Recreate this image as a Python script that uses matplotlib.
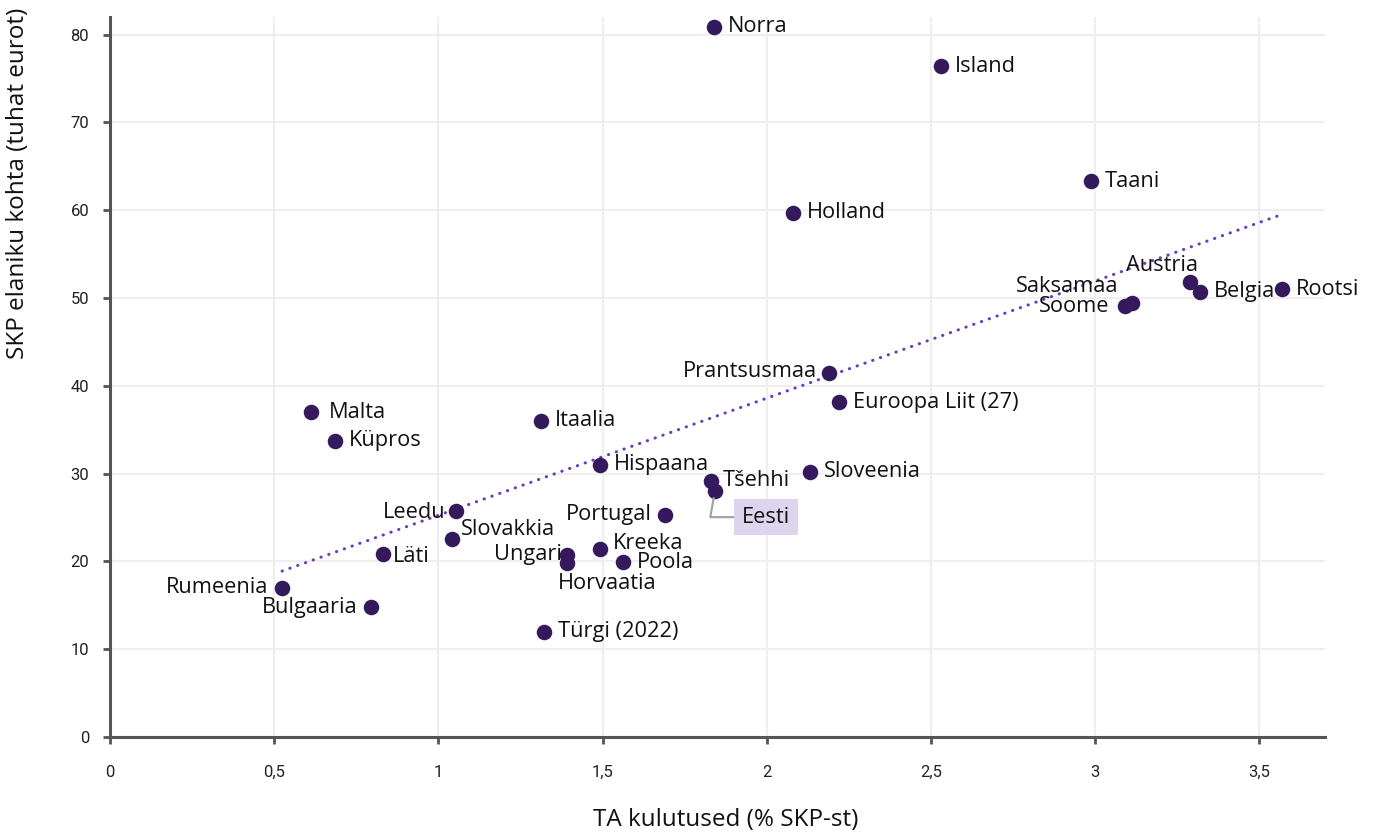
import matplotlib
matplotlib.use("Agg")
import matplotlib.pyplot as plt
from matplotlib.ticker import FuncFormatter, MultipleLocator

# countries, R&D spending (% of GDP) and GDP per capita (thousand EUR)
countries = ["Norra", "Island", "Taani", "Holland", "Austria", "Saksamaa", "Soome",
             "Belgia", "Rootsi", "Prantsusmaa", "Euroopa Liit (27)", "Malta", "Küpros",
             "Itaalia", "Hispaana", "Tšehhi", "Eesti", "Sloveenia", "Leedu", "Slovakkia",
             "Läti", "Portugal", "Kreeka", "Ungari", "Horvaatia", "Poola", "Rumeenia",
             "Bulgaaria", "Türgi (2022)"]
rd_share = [1.839, 2.530, 2.986, 2.079, 3.288, 3.111, 3.090,
            3.318, 3.568, 2.189, 2.219, 0.612, 0.685,
            1.312, 1.492, 1.830, 1.842, 2.131, 1.053, 1.041,
            0.831, 1.689, 1.492, 1.391, 1.391, 1.562, 0.524,
            0.795, 1.321]
gdp_pc = [80.9, 76.4, 63.3, 59.7, 51.8, 49.4, 49.1,
          50.7, 51.0, 41.4, 38.1, 37.0, 33.75,
          36.0, 31.0, 29.2, 28.0, 30.2, 25.7, 22.5,
          20.8, 25.3, 21.4, 20.7, 19.8, 19.9, 17.0,
          14.77, 12.0]

# trend line end points
trend_x = [0.524, 3.56]
trend_y = [18.9, 59.4]

highlight = "Eesti"

# label placement: (dx px, dy px, ha), default to the right
placement = {
    "Austria": (8, 17, "right"),
    "Saksamaa": (-13, 17, "right"),
    "Soome": (-15, -1, "right"),
    "Prantsusmaa": (-12, 2, "right"),
    "Malta": (18, 0, "left"),
    "Tšehhi": (12, 0, "left"),
    "Leedu": (-10, -1, "right"),
    "Slovakkia": (9, 10, "left"),
    "Läti": (10, -2, "left"),
    "Portugal": (-13, 0, "right"),
    "Kreeka": (13, 6, "left"),
    "Ungari": (-5, 1, "right"),
    "Horvaatia": (-9, -20, "left"),
    "Rumeenia": (-14, 0, "right"),
    "Bulgaaria": (-14, 0, "right"),
}

DOT = "#34195c"
TREND = "#6a3bbf"
AXIS = "#555555"
LABEL_FONT = ["Open Sans", "DejaVu Sans"]
LABEL_SIZE = 15.7
PX = 72 / 100  # pixels -> points

fig = plt.figure(figsize=(13.75, 8.32), dpi=100)
ax = fig.add_axes([110 / 1375, 1 - 737 / 832, (1325 - 110) / 1375, (737 - 17) / 832])

ax.plot(trend_x, trend_y, color=TREND, lw=2.2, linestyle=(0, (0.1, 2.6)),
        dash_capstyle="round", zorder=2)
ax.scatter(rd_share, gdp_pc, s=125, color=DOT, zorder=3, linewidths=0)

for name, x, y in zip(countries, rd_share, gdp_pc):
    if name == highlight:
        ax.annotate(name, xy=(x, y), xytext=(27 * PX, -26 * PX), textcoords="offset points",
                    ha="left", va="center", fontsize=LABEL_SIZE, family=LABEL_FONT,
                    color="#111111",
                    bbox=dict(boxstyle="square,pad=0.35", fc="#ddd4ee", ec="none"),
                    arrowprops=dict(arrowstyle="-", color="#a0a0a0", lw=1.5,
                                    connectionstyle="angle,angleA=0,angleB=80,rad=0",
                                    shrinkA=0, shrinkB=5),
                    zorder=4)
        continue
    dx, dy, ha = placement.get(name, (14, 0, "left"))
    ax.annotate(name, xy=(x, y), xytext=(dx * PX, dy * PX), textcoords="offset points",
                ha=ha, va="center", fontsize=LABEL_SIZE, family=LABEL_FONT, color="#111111",
                zorder=4)

ax.set_xlim(0, 3.7)
ax.set_ylim(0, 82)
ax.xaxis.set_major_locator(MultipleLocator(0.5))
ax.yaxis.set_major_locator(MultipleLocator(10))
fmt = FuncFormatter(lambda v, p: f"{v:g}".replace(".", ","))
ax.xaxis.set_major_formatter(fmt)
ax.yaxis.set_major_formatter(fmt)

ax.grid(True, color="#efefef", lw=1.6, zorder=0)
ax.set_axisbelow(True)
for side in ["top", "right"]:
    ax.spines[side].set_visible(False)
for side in ["left", "bottom"]:
    ax.spines[side].set_color(AXIS)
    ax.spines[side].set_linewidth(2.2)
ax.tick_params(axis="both", colors=AXIS, width=2, length=5, labelsize=12,
               labelcolor="#222222")
ax.tick_params(axis="x", pad=15)
ax.tick_params(axis="y", pad=10)
for lbl in ax.get_xticklabels() + ax.get_yticklabels():
    lbl.set_family(["Roboto", "DejaVu Sans"])

fig.text(18 / 1375, 1 - 183 / 832, "SKP elaniku kohta (tuhat eurot)", rotation=90,
         ha="center", va="center", fontsize=17.5, family=LABEL_FONT, color="#111111")
fig.text(726 / 1375, 1 - 820 / 832, "TA kulutused (% SKP-st)",
         ha="center", va="center", fontsize=17.5, family=LABEL_FONT, color="#111111")

fig.savefig("out.png", dpi=100)
